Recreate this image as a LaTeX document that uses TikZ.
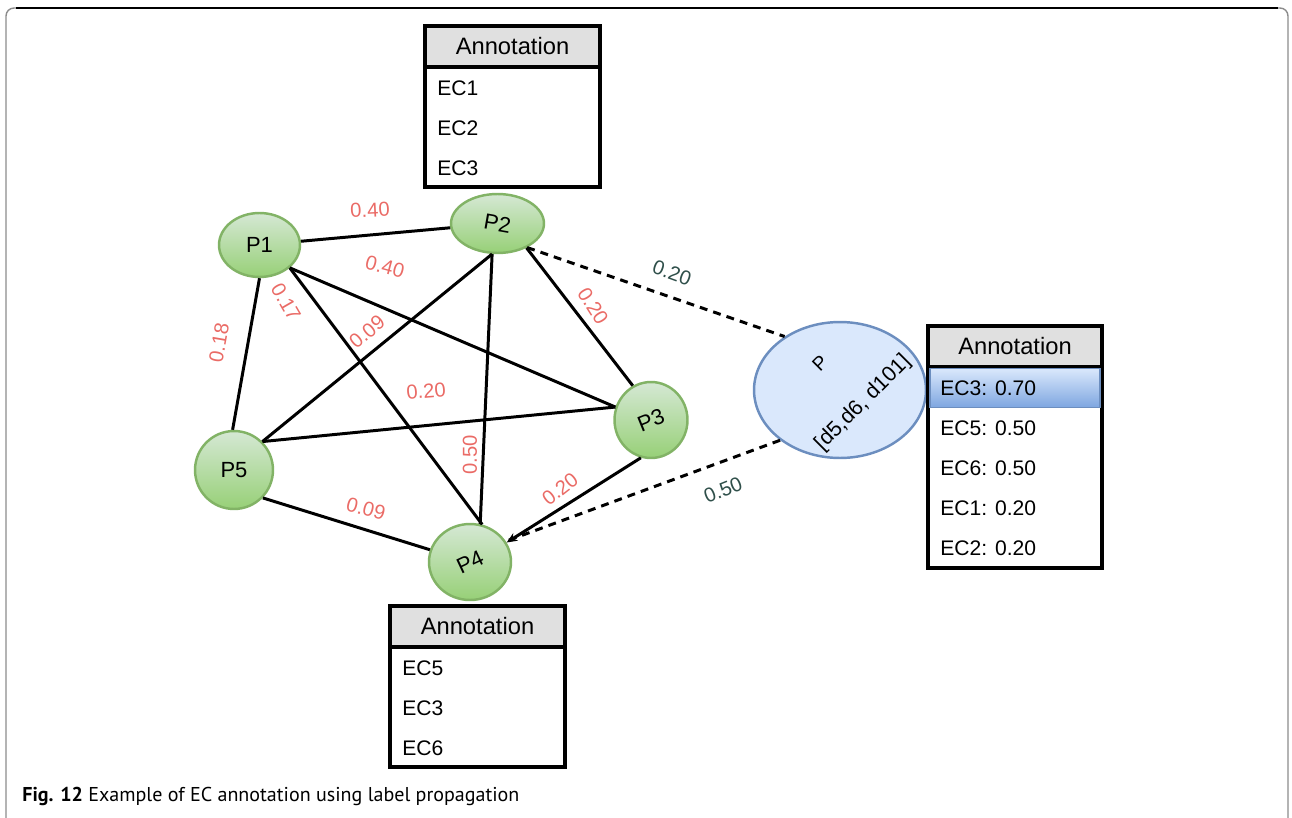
\documentclass[tikz,border=0pt]{standalone}
\usepackage{fontspec}
\setmainfont{Liberation Sans}
\newfontfamily\capfont{PT Sans}
\usetikzlibrary{shapes.geometric,arrows.meta,positioning}

\definecolor{greenTop}{HTML}{D5E8D4}
\definecolor{greenBot}{HTML}{97D077}
\definecolor{greenLine}{HTML}{82B366}
\definecolor{blueFill}{HTML}{DAE8FC}
\definecolor{blueLine}{HTML}{6C8EBF}
\definecolor{blueDark}{HTML}{7EA6E0}
\definecolor{weightRed}{HTML}{EA6B66}
\definecolor{weightDark}{HTML}{2F4F4A}
\definecolor{headGray}{HTML}{E0E0E0}
\definecolor{frameGray}{HTML}{8C8C8C}

\begin{document}
\begin{tikzpicture}[x=0.02cm, y=-0.02cm,
    every node/.style={align=center, inner sep=0pt},
    greenVertex/.style={draw=greenLine, shape=ellipse, line width=1.4pt, top color=greenTop, bottom color=greenBot, font=\fontsize{12.5}{12.5}\selectfont},
    blueVertex/.style={draw=blueLine, shape=ellipse, line width=1.4pt, fill=blueFill, minimum width=3.44cm, minimum height=2.72cm},
    linkEdge/.style={line width=1.7pt},
    propEdge/.style={line width=1.7pt, dash pattern=on 4.5pt off 3.5pt},
    redWeight/.style={text=weightRed, font=\fontsize{11.5}{11.5}\selectfont},
    darkWeight/.style={text=weightDark, font=\fontsize{11.5}{11.5}\selectfont},
    annoBody/.style={draw, line width=2pt, fill=white, minimum width=3.5cm},
    annoHead/.style={draw, line width=2pt, fill=headGray, minimum width=3.5cm, minimum height=0.82cm, font=\fontsize{13.5}{13.5}\selectfont},
    annoRow/.style={anchor=west, font=\fontsize{12}{12}\selectfont}
  ]

  \useasboundingbox (0,0) rectangle (1292,818);

  % figure frame
  \draw[frameGray, line width=0.8pt, rounded corners=0.16cm] (6,830) -- (6,8) -- (1288,8) -- (1288,830);
  \draw[line width=0.8pt] (16,8) -- (1278,8);

  % proteins
  \node[greenVertex, minimum width=1.62cm, minimum height=1.28cm] (P1) at (259.5,245) {P1};
  \node[greenVertex, minimum width=1.86cm, minimum height=1.18cm] (P2) at (497.5,223.5) {\rotatebox{-10}{P2}};
  \node[greenVertex, minimum width=1.46cm, minimum height=1.52cm] (P3) at (651,420) {\rotatebox{22}{P3}};
  \node[greenVertex, minimum width=1.64cm, minimum height=1.52cm] (P4) at (470,562) {\rotatebox{25}{P4}};
  \node[greenVertex, minimum width=1.56cm, minimum height=1.56cm] (P5) at (234,470) {P5};
  \node[blueVertex] (P) at (840,390) {};
  \node[rotate=45, font=\fontsize{11}{11}\selectfont] (Pname) at (820,363) {P};
  \node[rotate=45, font=\fontsize{12.2}{12.2}\selectfont] (Pdom) at (863,403) {[d5,d6,~d101]};

  % interaction edges
  \draw[linkEdge] (P1) -- (P2);
  \draw[linkEdge] (P1.-37) -- (P3.160);
  \draw[linkEdge] (P1.-37) -- (P4.72);
  \draw[linkEdge] (P1.-90) -- (P5.92);
  \draw[linkEdge] (P2.-100) -- (P4.75);
  \draw[linkEdge] (P2.-100) -- (P5.45);
  \draw[linkEdge] (P2.-40) -- (P3.118);
  \draw[linkEdge, -{Stealth[length=6pt, width=5pt]}] (P3.-105) -- (P4.28);
  \draw[linkEdge] (P5.45) -- (P3.160);
  \draw[linkEdge] (P5.-44) -- (P4.163);

  % propagation edges
  \draw[propEdge] (P2.-39) -- (P.136);
  \draw[propEdge] (P.220) -- (P4.30);

  % weights
  \node[redWeight, rotate=3] (w12) at (370,210) {0.40};
  \node[redWeight, rotate=-15] (w13) at (385,267) {0.40};
  \node[redWeight, rotate=-60] (w14) at (286,302) {0.17};
  \node[redWeight, rotate=40] (w25) at (367,332) {0.09};
  \node[redWeight, rotate=80] (w15) at (219,343) {0.18};
  \node[redWeight, rotate=5] (w35) at (426,391) {0.20};
  \node[redWeight, rotate=90] (w24) at (470,455) {0.50};
  \node[redWeight, rotate=-58] (w23) at (593,306) {0.20};
  \node[redWeight, rotate=38] (w34) at (560,489) {0.20};
  \node[redWeight, rotate=-15] (w45) at (366,509) {0.09};
  \node[darkWeight, rotate=-20] (wP2) at (672,273) {0.20};
  \node[darkWeight, rotate=22] (wP4) at (723,490) {0.50};

  % annotation of P2
  \node[annoBody, minimum height=3.22cm] (A0) at (512.5,106.5) {};
  \node[annoHead] (A1) at (512.5,46.5) {Annotation};
  \node[annoRow] (A2) at (437,88) {EC1};
  \node[annoRow] (A3) at (437,128) {EC2};
  \node[annoRow] (A4) at (437,168) {EC3};

  % annotation of P4
  \node[annoBody, minimum height=3.22cm] (B0) at (477.5,686.5) {};
  \node[annoHead] (B1) at (477.5,626.5) {Annotation};
  \node[annoRow] (B2) at (402,668) {EC5};
  \node[annoRow] (B3) at (402,708) {EC3};
  \node[annoRow] (B4) at (402,748) {EC6};

  % predicted annotation of P
  \node[annoBody, minimum width=3.48cm, minimum height=4.84cm] (C0) at (1015,447) {};
  \node[annoHead, minimum width=3.48cm] (C1) at (1015,346.5) {Annotation};
  \node[draw=blueLine, line width=0.8pt, top color=blueFill, bottom color=blueDark, minimum width=3.4cm, minimum height=0.78cm] (C2) at (1015,388) {};
  \node[annoRow] (C3) at (940,388) {EC3: 0.70};
  \node[annoRow] (C4) at (940,428) {EC5: 0.50};
  \node[annoRow] (C5) at (940,468) {EC6: 0.50};
  \node[annoRow] (C6) at (940,508) {EC1: 0.20};
  \node[annoRow] (C7) at (940,548) {EC2: 0.20};

  % caption
  \node[anchor=base west, font=\capfont\fontsize{11.4}{11.4}\selectfont] (cap) at (22,801) {\textbf{Fig. 12} Example of EC annotation using label propagation};
\end{tikzpicture}
\end{document}
